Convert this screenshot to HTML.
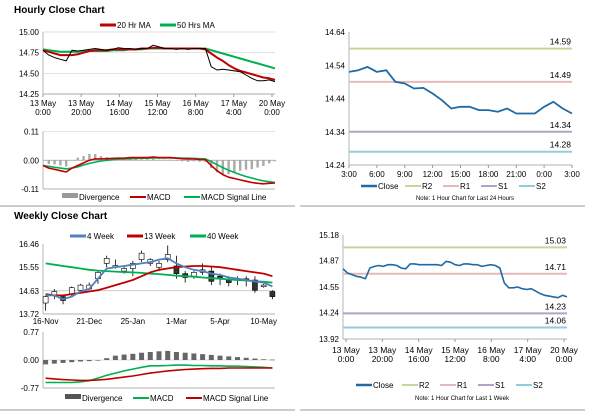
<!DOCTYPE html>
<html><head><meta charset="utf-8"><style>
html,body{margin:0;padding:0;background:#fff}
svg{display:block;font-family:"Liberation Sans",sans-serif}
</style></head><body>
<svg id="c" width="600" height="413" viewBox="0 0 600 413" xmlns="http://www.w3.org/2000/svg"></svg>
<script>
// ---------- data ----------
const hourlyPrice=[14.78,14.72,14.69,14.67,14.65,14.78,14.77,14.78,14.79,14.8,14.79,14.78,14.79,14.81,14.8,14.8,14.79,14.8,14.8,14.84,14.82,14.8,14.8,14.79,14.8,14.79,14.8,14.8,14.8,14.58,14.54,14.55,14.54,14.53,14.52,14.48,14.44,14.41,14.41,14.42,14.4];
const hourlyMA20=[14.78,14.76,14.74,14.72,14.72,14.72,14.73,14.75,14.77,14.78,14.78,14.78,14.79,14.79,14.79,14.79,14.79,14.8,14.8,14.81,14.81,14.8,14.8,14.8,14.8,14.8,14.8,14.8,14.79,14.74,14.69,14.65,14.6,14.56,14.53,14.51,14.49,14.47,14.45,14.44,14.42];
const hourlyMA50=[14.79,14.78,14.77,14.76,14.76,14.76,14.76,14.77,14.77,14.77,14.77,14.77,14.78,14.78,14.78,14.79,14.79,14.79,14.8,14.8,14.8,14.8,14.8,14.8,14.8,14.8,14.8,14.8,14.8,14.78,14.76,14.74,14.72,14.7,14.68,14.66,14.64,14.62,14.6,14.58,14.56];
const hourlyMacd=[-0.02,-0.03,-0.035,-0.04,-0.045,-0.03,-0.02,-0.01,0,0.005,0.005,0.006,0.007,0.008,0.008,0.01,0.01,0.01,0.01,0.012,0.01,0.01,0.01,0.008,0.006,0.005,0.005,0.003,0.002,-0.02,-0.04,-0.055,-0.065,-0.07,-0.075,-0.08,-0.085,-0.088,-0.09,-0.088,-0.087];
const hourlySignal=[-0.02,-0.023,-0.027,-0.03,-0.033,-0.03,-0.025,-0.018,-0.012,-0.007,-0.003,0,0.002,0.004,0.005,0.006,0.007,0.008,0.008,0.009,0.009,0.009,0.009,0.009,0.008,0.008,0.007,0.006,0.005,-0.005,-0.017,-0.028,-0.038,-0.047,-0.055,-0.062,-0.068,-0.074,-0.079,-0.082,-0.085];
const hourlyXLabels=[["13 May","0:00"],["13 May","20:00"],["14 May","16:00"],["15 May","12:00"],["16 May","8:00"],["17 May","4:00"],["20 May","0:00"]];
const hourlyTicks=[15.00,14.75,14.50,14.25];
const macdHTicks=[0.11,0.00,-0.11];

const dayClose=[14.52,14.525,14.535,14.52,14.525,14.49,14.485,14.47,14.472,14.455,14.435,14.41,14.415,14.415,14.405,14.405,14.40,14.41,14.395,14.395,14.395,14.415,14.43,14.41,14.395];
const dayXLabels=["3:00","6:00","9:00","12:00","15:00","18:00","21:00","0:00","3:00"];
const dayTicks=[14.64,14.54,14.44,14.34,14.24];
const dayLevels=[14.59,14.49,14.34,14.28];

const weekOpen =[14.15,14.45,14.4,14.5,14.65,14.7,15.1,15.7,15.6,15.4,15.5,15.85,15.7,15.55,15.85,15.6,15.3,15.2,15.35,15.4,15.2,15.05,15.05,15.1,15.05,14.8,14.6];
const weekClose=[14.4,14.6,14.25,14.75,14.85,14.85,15.35,15.9,15.62,15.5,15.7,16.1,15.85,15.7,16.05,15.3,15.15,15.35,15.45,15.0,15.1,14.95,15.1,15.05,14.65,14.85,14.4];
const weekHigh =[14.45,14.7,14.45,14.8,14.9,14.95,15.4,16.0,15.85,15.6,15.8,16.2,15.9,15.8,16.4,16.0,15.4,15.4,15.7,15.6,15.3,15.2,15.2,15.2,15.2,14.9,14.65];
const weekLow  =[13.85,14.3,14.1,14.4,14.6,14.65,14.9,15.55,15.5,15.3,15.2,15.75,15.6,15.4,15.75,15.1,14.95,15.1,15.25,14.85,14.85,14.8,14.85,14.8,14.55,14.75,14.3];
const week4=[14.45,14.45,14.3,14.4,14.6,14.7,15.1,15.5,15.55,15.6,15.65,15.7,15.75,15.85,15.9,15.7,15.55,15.45,15.4,15.3,15.25,15.15,15.1,15.05,15.0,14.95,14.8];
const week13=[14.5,14.45,14.45,14.5,14.55,14.6,14.65,14.75,14.85,14.95,15.05,15.2,15.35,15.45,15.5,15.55,15.58,15.6,15.6,15.58,15.55,15.5,15.45,15.4,15.35,15.3,15.2];
const week40=[15.7,15.65,15.6,15.55,15.5,15.45,15.42,15.4,15.38,15.36,15.35,15.33,15.3,15.28,15.25,15.22,15.2,15.18,15.15,15.12,15.1,15.07,15.05,15.03,15.0,14.98,14.95];
const weekDiv=[-0.12,-0.1,-0.08,-0.06,-0.04,-0.03,0.0,0.05,0.12,0.15,0.17,0.2,0.22,0.24,0.25,0.22,0.2,0.18,0.16,0.14,0.12,0.1,0.08,0.06,0.04,0.02,0.01];
const weekMacd=[-0.62,-0.62,-0.62,-0.62,-0.6,-0.57,-0.5,-0.42,-0.36,-0.3,-0.25,-0.2,-0.16,-0.16,-0.15,-0.14,-0.14,-0.15,-0.15,-0.16,-0.16,-0.17,-0.17,-0.18,-0.19,-0.2,-0.22];
const weekSignal=[-0.5,-0.52,-0.54,-0.55,-0.56,-0.56,-0.55,-0.53,-0.5,-0.47,-0.44,-0.4,-0.36,-0.33,-0.3,-0.28,-0.26,-0.25,-0.24,-0.23,-0.23,-0.22,-0.22,-0.22,-0.22,-0.22,-0.22];
const weekXLabels=["16-Nov","21-Dec","25-Jan","1-Mar","5-Apr","10-May"];
const weekXLabelIdx=[0,5,10,15,20,25];
const weekTicks=[16.46,15.55,14.63,13.72];
const macdWTicks=[0.77,0.00,-0.77];

const wkClose=[14.77,14.72,14.7,14.68,14.67,14.65,14.78,14.8,14.81,14.8,14.82,14.82,14.81,14.78,14.77,14.83,14.83,14.82,14.82,14.82,14.82,14.82,14.81,14.86,14.85,14.82,14.81,14.83,14.83,14.82,14.82,14.8,14.81,14.82,14.81,14.78,14.6,14.54,14.54,14.55,14.53,14.52,14.53,14.5,14.47,14.45,14.44,14.43,14.42,14.45,14.43];
const wkXLabels=[["13 May","0:00"],["13 May","20:00"],["14 May","16:00"],["15 May","12:00"],["16 May","8:00"],["17 May","4:00"],["20 May","0:00"]];
const wkTicks=[15.18,14.87,14.55,14.24,13.92];
const wkLevels=[15.03,14.71,14.23,14.06];
const levelNames=["R2","R1","S1","S2"];
const levelColors=["#c4d79b","#e6b9b8","#b3a2c7","#93cddd"];

// ---------- helpers ----------
const S=document.getElementById('c');const NS="http://www.w3.org/2000/svg";
function el(t,a,p){const e=document.createElementNS(NS,t);for(const k in a)e.setAttribute(k,a[k]);(p||S).appendChild(e);return e;}
function txt(x,y,s,sz,anchor,extra){const e=el('text',Object.assign({x:x,y:y,'font-size':sz,fill:'#000','text-anchor':anchor||'start'},extra||{}));e.textContent=s;return e;}
function lin(d0,d1,r0,r1){return v=>r0+(v-d0)/(d1-d0)*(r1-r0);}
function path(vals,xf,yf,color,w,name){const d=vals.map((v,i)=>(i?'L':'M')+xf(i).toFixed(1)+' '+yf(v).toFixed(1)).join(' ');const p=el('path',{d:d,fill:'none',stroke:color,'stroke-width':w,'stroke-linejoin':'round'});


return p;}
function yAxis(x0,x1,ticks,yf,fmt,grid){ticks.forEach(t=>{const y=yf(t);const l=txt(x0-4,y+3,fmt(t),8,'end');


if(grid)el('line',{x1:x0,x2:x1,y1:y,y2:y,stroke:'#d0d0d0','stroke-width':0.7});});
el('line',{x1:x0,x2:x0,y1:yf(ticks[0]),y2:yf(ticks[ticks.length-1]),stroke:'#999','stroke-width':0.7});}
function legendItem(x,y,color,label,thick){el('line',{x1:x,x2:x+16,y1:y-3,y2:y-3,stroke:color,'stroke-width':thick||2.5});const t=txt(x+17,y,label,8);

}

// titles & separators
let t1=txt(14,13,"Hourly Close Chart",10,'start',{'font-weight':'bold'});


let t2=txt(14,219,"Weekly Close Chart",10,'start',{'font-weight':'bold'});


el('line',{x1:0,x2:295,y1:206,y2:206,stroke:'#999','stroke-width':1});
el('line',{x1:300,x2:585,y1:206,y2:206,stroke:'#999','stroke-width':1});
el('line',{x1:0,x2:295,y1:410,y2:410,stroke:'#999','stroke-width':1});
el('line',{x1:300,x2:585,y1:410,y2:410,stroke:'#999','stroke-width':1});

// ---------- hourly left ----------
{const X0=43,X1=275;const xf=lin(0,hourlyPrice.length-1,X0,X1);const yf=lin(15,14.25,32,94);
legendItem(100,28,'#c00000','20 Hr MA',3);legendItem(160,28,'#00b050','50 Hrs MA',3);
yAxis(X0,X1,hourlyTicks,yf,v=>v.toFixed(2),true);
el('line',{x1:X0,x2:X1,y1:yf(14.25),y2:yf(14.25),stroke:'#999','stroke-width':0.7});
hourlyXLabels.forEach((l,i)=>{const x=X0+i*(X1-X0-3)/6;el('line',{x1:x,x2:x,y1:94,y2:97,stroke:'#999'});txt(x,106,l[0],8,'middle');txt(x,115,l[1],8,'middle');});
path(hourlyMA50,xf,yf,'#00b050',2,'ma50-line');
path(hourlyMA20,xf,yf,'#c00000',2,'ma20-line');
path(hourlyPrice,xf,yf,'#000',1,'hourly-price-line');
const ym=lin(0.11,-0.11,131.5,189);
yAxis(X0,X1,macdHTicks,ym,v=>v.toFixed(2),false);
el('line',{x1:X0,x2:X1,y1:ym(0),y2:ym(0),stroke:'#999','stroke-width':0.7});
el('line',{x1:X0,x2:X1,y1:ym(0.11),y2:ym(0.11),stroke:'#ccc','stroke-width':0.5});
el('line',{x1:X0,x2:X1,y1:ym(-0.11),y2:ym(-0.11),stroke:'#999','stroke-width':0.7});
hourlyMacd.forEach((v,i)=>{const d=v-hourlySignal[i];const b=el('rect',{x:xf(i)-1.2,y:Math.min(ym(0),ym(d*2)),width:2.4,height:Math.abs(ym(d*2)-ym(0)),fill:'#aaa'});

});
path(hourlySignal,xf,yf=>0,'#000',0,'x').remove();
path(hourlySignal,xf,ym,'#00b050',1.6,'macd-signal-line');
path(hourlyMacd,xf,ym,'#c00000',1.6,'macd-line');
el('rect',{x:62,y:193,width:16,height:5,fill:'#999'});txt(79,200,"Divergence",8);
legendItem(130,200,'#c00000','MACD',2);legendItem(184,200,'#00b050','MACD Signal Line',2);}

// ---------- hourly right ----------
{const X0=349,X1=572;const xf=lin(0,dayClose.length-1,X0,X1);const yf=lin(14.64,14.24,32,165);
yAxis(X0,X1,dayTicks,yf,v=>v.toFixed(2),false);
el('line',{x1:X0,x2:X1,y1:165,y2:165,stroke:'#999','stroke-width':0.7});
dayXLabels.forEach((l,i)=>{const x=X0+i*(X1-X0)/8;el('line',{x1:x,x2:x,y1:165,y2:168,stroke:'#999'});txt(x,177,l,8,'middle');});
dayLevels.forEach((v,i)=>{const ln=el('line',{x1:X0,x2:X1,y1:yf(v),y2:yf(v),stroke:levelColors[i],'stroke-width':2});


txt(X1-1,yf(v)-4,v.toFixed(2),8.5,'end');});
path(dayClose,xf,yf,'#1f6aa5',1.8,'close-line');
legendItem(361,189,'#1f6aa5','Close',2.5);
levelNames.forEach((n,i)=>legendItem(405+i*38,189,levelColors[i],n,2));
txt(465,200,"Note: 1 Hour Chart for Last 24 Hours",6,'middle');}

// ---------- weekly left ----------
{const X0=43,X1=275;const n=weekClose.length;const xf=lin(-0.3,n-0.7,X0,X1);const yf=lin(16.46,13.72,244,314);
legendItem(70,239,'#4f81bd','4 Week',3);legendItem(127,239,'#c00000','13 Week',3);legendItem(190,239,'#00b050','40 Week',3);
yAxis(X0,X1,weekTicks,yf,v=>v.toFixed(2),false);
el('line',{x1:X0,x2:X1,y1:yf(14.63),y2:yf(14.63),stroke:'#bbb','stroke-width':0.7});
el('line',{x1:X0,x2:X1,y1:314,y2:314,stroke:'#999','stroke-width':0.7});
weekXLabels.forEach((l,i)=>{const x=xf(weekXLabelIdx[i]);txt(x,324,l,8,'middle');});
weekClose.forEach((c,i)=>{const o=weekOpen[i];const x=xf(i);
el('line',{x1:x,x2:x,y1:yf(weekHigh[i]),y2:yf(weekLow[i]),stroke:'#000','stroke-width':0.8});
const top=yf(Math.max(o,c)),bot=yf(Math.min(o,c));
const r=el('rect',{x:x-2.5,y:top,width:5,height:Math.max(bot-top,1.5),fill:c>=o?'#fff':'#333',stroke:'#000','stroke-width':0.6});

});
path(week40,xf,yf,'#00b050',1.8,'ma40-week-line');
path(week13,xf,yf,'#c00000',1.8,'ma13-week-line');
path(week4,xf,yf,'#4f81bd',1.8,'ma4-week-line');
const ym=lin(0.77,-0.77,332,388);
yAxis(X0,X1,macdWTicks,ym,v=>v.toFixed(2),false);
el('line',{x1:X0,x2:X1,y1:ym(0),y2:ym(0),stroke:'#bbb','stroke-width':0.6});
el('line',{x1:X0,x2:X1,y1:388,y2:388,stroke:'#999','stroke-width':0.7});
weekDiv.forEach((d,i)=>{const b=el('rect',{x:xf(i)-2.5,y:Math.min(ym(0),ym(d)),width:5,height:Math.max(Math.abs(ym(d)-ym(0)),0.6),fill:'#666'});

});
path(weekMacd,xf,ym,'#00b050',1.6,'weekly-macd-line');
path(weekSignal,xf,ym,'#c00000',1.6,'weekly-signal-line');
el('rect',{x:65,y:394,width:16,height:5,fill:'#555'});txt(82,401,"Divergence",8);
legendItem(133,401,'#00b050','MACD',2);legendItem(186,401,'#c00000','MACD Signal Line',2);}

// ---------- weekly right ----------
{const X0=343,X1=567;const xf=lin(0,wkClose.length-1,X0,X1);const yf=lin(15.18,13.92,235,339);
yAxis(X0,X1,wkTicks,yf,v=>v.toFixed(2),false);
el('line',{x1:X0,x2:X1,y1:339,y2:339,stroke:'#999','stroke-width':0.7});
wkXLabels.forEach((l,i)=>{const x=X0+3+i*(X1-X0-6)/6;el('line',{x1:x,x2:x,y1:339,y2:342,stroke:'#999'});txt(x,353,l[0],8.5,'middle');txt(x,362,l[1],8.5,'middle');});
wkLevels.forEach((v,i)=>{const ln=el('line',{x1:X0,x2:X1,y1:yf(v),y2:yf(v),stroke:levelColors[i],'stroke-width':2});


txt(X1-1,yf(v)-4,v.toFixed(2),8.5,'end');});
path(wkClose,xf,yf,'#1f6aa5',1.6,'weekly-close-line');
legendItem(356,388,'#1f6aa5','Close',2.5);
levelNames.forEach((n,i)=>legendItem(402+i*38,388,levelColors[i],n,2));
txt(462,400,"Note: 1 Hour Chart for Last 1 Week",6,'middle');}
</script>
</body></html>
